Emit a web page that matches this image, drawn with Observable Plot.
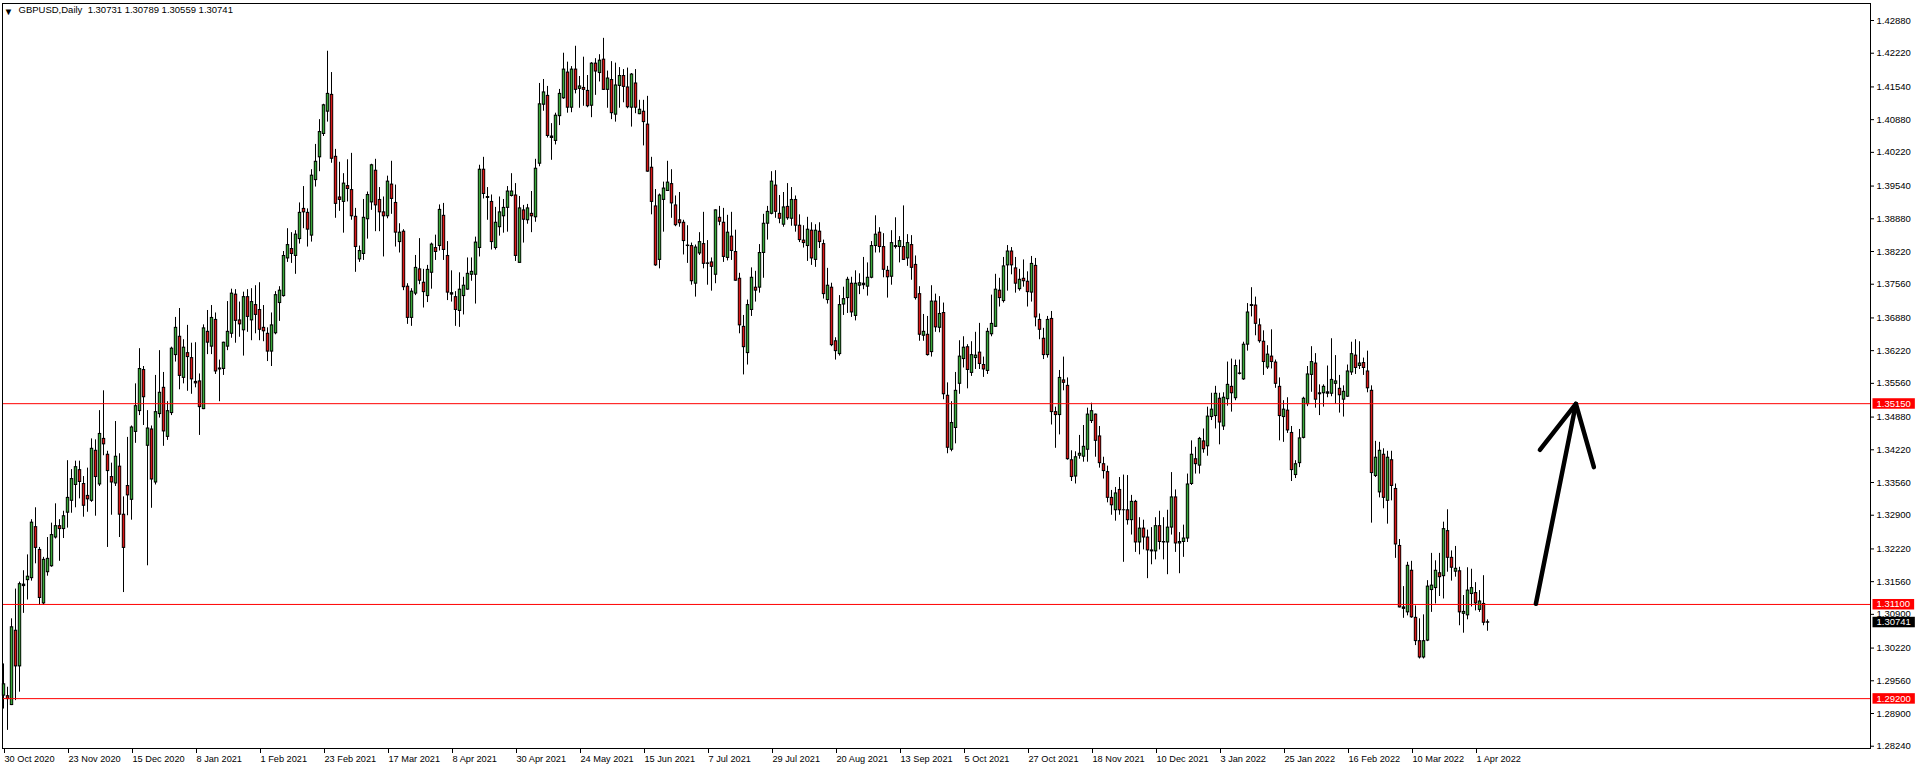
<!DOCTYPE html>
<html>
<head>
<meta charset="utf-8">
<script src="https://cdn.jsdelivr.net/npm/d3@7"></script>
<script src="https://cdn.jsdelivr.net/npm/@observablehq/plot@0.6"></script>
<style>
html,body{margin:0;padding:0;background:#fff;}
#chart svg{display:block;}
</style>
</head>
<body>
<div id="chart"></div>
<script>
// ---------- data ----------
const symbolName = "GBPUSD,Daily";

// x-axis labels: bar index -> date text
const dateBars = [0,16,32,48,64,80,96,112,128,144,160,176,192,208,224,240,256,272,288,304,320,336,352,368];
const dateLabels = ["30 Oct 2020","23 Nov 2020","15 Dec 2020","8 Jan 2021","1 Feb 2021","23 Feb 2021","17 Mar 2021","8 Apr 2021","30 Apr 2021","24 May 2021","15 Jun 2021","7 Jul 2021","29 Jul 2021","20 Aug 2021","13 Sep 2021","5 Oct 2021","27 Oct 2021","18 Nov 2021","10 Dec 2021","3 Jan 2022","25 Jan 2022","16 Feb 2022","10 Mar 2022","1 Apr 2022"];

// y-axis tick labels
const priceTicks = [1.28240,1.28900,1.29560,1.30220,1.30900,1.31560,1.32220,1.32900,1.33560,1.34220,1.34880,1.35560,1.36220,1.36880,1.37560,1.38220,1.38880,1.39540,1.40220,1.40880,1.41540,1.42220,1.42880];

// horizontal levels
const levels = [1.35150, 1.31100, 1.29200];

// daily OHLC, one entry per bar (bar 0 = 30 Oct 2020)
const openP = [
1.2926,1.2925,1.2907,1.3057,1.2985,1.3147,1.3159,1.3163,1.3266,1.3220,
1.3112,1.3175,1.3187,1.3245,1.3268,1.3262,1.3295,1.3319,1.3351,1.3381,
1.3353,1.3329,1.3319,1.3420,1.3352,1.3444,1.3412,1.3367,1.3354,1.3388,
1.3291,1.3349,1.3321,1.3458,1.3500,1.3583,1.3430,1.3463,1.3356,1.3494,
1.3547,1.3448,1.3496,1.3613,1.3650,1.3567,1.3617,1.3607,1.3559,1.3560,
1.3504,1.3660,1.3630,1.3684,1.3584,1.3585,1.3630,1.3656,1.3735,1.3683,
1.3663,1.3730,1.3683,1.3714,1.3704,1.3668,1.3656,1.3620,1.3657,1.3718,
1.3732,1.3808,1.3827,1.3813,1.3847,1.3908,1.3900,1.3854,1.3966,1.4012,
1.4059,1.4104,1.4138,1.4013,1.3931,1.3922,1.3954,1.3946,1.3892,1.3806,
1.3817,1.3887,1.3921,1.3985,1.3926,1.3901,1.3893,1.3957,1.3920,1.3841,
1.3862,1.3751,1.3688,1.3737,1.3786,1.3759,1.3732,1.3779,1.3829,1.3833,
1.3894,1.3813,1.3738,1.3730,1.3702,1.3732,1.3745,1.3775,1.3775,1.3829,
1.3987,1.3932,1.3922,1.3829,1.3871,1.3893,1.3910,1.3934,1.3935,1.3799,
1.3905,1.3885,1.3898,1.3891,1.3999,1.4118,1.4136,1.4054,1.4045,1.4095,
1.4131,1.4183,1.4112,1.4189,1.4150,1.4152,1.4146,1.4116,1.4201,1.4182,
1.4209,1.4148,1.4168,1.4098,1.4156,1.4176,1.4153,1.4112,1.4161,1.4099,
1.4104,1.4078,1.3991,1.3913,1.3805,1.3926,1.3944,1.3958,1.3915,1.3885,
1.3880,1.3834,1.3833,1.3757,1.3818,1.3837,1.3797,1.3800,1.3775,1.3890,
1.3880,1.3809,1.3852,1.3821,1.3767,1.3670,1.3617,1.3704,1.3749,1.3749,
1.3819,1.3878,1.3898,1.3955,1.3898,1.3876,1.3912,1.3888,1.3926,1.3874,
1.3844,1.3833,1.3864,1.3805,1.3862,1.3837,1.3724,1.3749,1.3641,1.3615,
1.3715,1.3728,1.3757,1.3692,1.3753,1.3757,1.3751,1.3769,1.3833,1.3860,
1.3831,1.3783,1.3771,1.3833,1.3831,1.3831,1.3808,1.3835,1.3795,1.3736,
1.3652,1.3654,1.3619,1.3721,1.3668,1.3698,1.3531,1.3422,1.3466,1.3555,
1.3605,1.3629,1.3577,1.3607,1.3618,1.3593,1.3581,1.3655,1.3670,1.3743,
1.3722,1.3794,1.3822,1.3788,1.3746,1.3767,1.3761,1.3739,1.3793,1.3684,
1.3646,1.3613,1.3686,1.3498,1.3492,1.3562,1.3551,1.3401,1.3368,1.3410,
1.3408,1.3422,1.3480,1.3493,1.3449,1.3393,1.3377,1.3325,1.3300,1.3341,
1.3300,1.3300,1.3280,1.3317,1.3235,1.3263,1.3245,1.3219,1.3217,1.3268,
1.3236,1.3235,1.3265,1.3326,1.3233,1.3236,1.3243,1.3353,1.3403,1.3390,
1.3439,1.3429,1.3488,1.3490,1.3525,1.3469,1.3524,1.3549,1.3526,1.3576,
1.3564,1.3634,1.3712,1.3713,1.3673,1.3640,1.3588,1.3610,1.3598,1.3549,
1.3488,1.3501,1.3456,1.3371,1.3395,1.3446,1.3514,1.3573,1.3596,1.3534,
1.3536,1.3538,1.3535,1.3555,1.3545,1.3523,1.3529,1.3578,1.3612,1.3591,
1.3597,1.3580,1.3541,1.3369,1.3336,1.3412,1.3319,1.3401,1.3343,1.3228,
1.3104,1.3094,1.3178,1.3083,1.3036,1.3003,1.3037,1.3139,1.3143,1.3173,
1.3167,1.3258,1.3204,1.3176,1.3177,1.3091,1.3088,1.3131,1.3133,1.3099,
1.3111,1.30731];

const highP = [
1.2990,1.2943,1.3081,1.3141,1.3155,1.3178,1.3210,1.3281,1.3305,1.3225,
1.3205,1.3245,1.3274,1.3313,1.3281,1.3298,1.3400,1.3382,1.3399,1.3399,
1.3368,1.3385,1.3444,1.3442,1.3501,1.3541,1.3419,1.3395,1.3479,1.3414,
1.3327,1.3447,1.3470,1.3555,1.3626,1.3590,1.3501,1.3470,1.3572,1.3622,
1.3578,1.3519,1.3629,1.3689,1.3707,1.3644,1.3673,1.3637,1.3638,1.3575,
1.3674,1.3703,1.3713,1.3698,1.3603,1.3639,1.3721,1.3746,1.3745,1.3720,
1.3740,1.3745,1.3747,1.3753,1.3759,1.3713,1.3668,1.3698,1.3741,1.3751,
1.3822,1.3868,1.3860,1.3864,1.3920,1.3953,1.3908,1.3987,1.4038,1.4088,
1.4119,1.4226,1.4183,1.4028,1.4002,1.3979,1.4007,1.4020,1.3909,1.3833,
1.3927,1.3942,1.3998,1.4008,1.3951,1.3932,1.3974,1.4004,1.3956,1.3878,
1.3866,1.3757,1.3747,1.3814,1.3848,1.3786,1.3794,1.3839,1.3855,1.3916,
1.3919,1.3842,1.3783,1.3741,1.3779,1.3770,1.3809,1.3809,1.3851,1.3996,
1.4012,1.3951,1.3936,1.3911,1.3932,1.3927,1.3953,1.3979,1.3959,1.3933,
1.3915,1.3917,1.3943,1.4008,1.4161,1.4169,1.4155,1.4080,1.4101,1.4149,
1.4222,1.4204,1.4195,1.4236,1.4175,1.4214,1.4177,1.4203,1.4211,1.4219,
1.4252,1.4186,1.4205,1.4202,1.4193,1.4189,1.4192,1.4181,1.4189,1.4127,
1.4127,1.4135,1.4012,1.3947,1.3938,1.3962,1.4004,1.3987,1.3934,1.3941,
1.3885,1.3874,1.3839,1.3835,1.3860,1.3901,1.3844,1.3809,1.3906,1.3913,
1.3909,1.3895,1.3901,1.3865,1.3778,1.3693,1.3724,1.3789,1.3782,1.3836,
1.3897,1.3913,1.3983,1.3985,1.3935,1.3941,1.3959,1.3951,1.3934,1.3896,
1.3874,1.3891,1.3880,1.3876,1.3880,1.3845,1.3788,1.3758,1.3648,1.3733,
1.3750,1.3770,1.3770,1.3783,1.3777,1.3810,1.3799,1.3842,1.3894,1.3870,
1.3858,1.3792,1.3864,1.3890,1.3852,1.3914,1.3856,1.3854,1.3813,1.3751,
1.3695,1.3691,1.3753,1.3736,1.3731,1.3718,1.3557,1.3519,1.3578,1.3642,
1.3650,1.3634,1.3640,1.3659,1.3677,1.3609,1.3667,1.3734,1.3776,1.3768,
1.3810,1.3834,1.3830,1.3810,1.3786,1.3805,1.3781,1.3812,1.3808,1.3696,
1.3667,1.3691,1.3701,1.3508,1.3582,1.3609,1.3567,1.3420,1.3418,1.3451,
1.3471,1.3506,1.3516,1.3494,1.3469,1.3407,1.3389,1.3340,1.3346,1.3366,
1.3371,1.3370,1.3330,1.3320,1.3285,1.3280,1.3260,1.3265,1.3285,1.3298,
1.3285,1.3300,1.3376,1.3341,1.3255,1.3270,1.3373,1.3440,1.3427,1.3447,
1.3464,1.3508,1.3536,1.3550,1.3536,1.3537,1.3599,1.3605,1.3603,1.3603,
1.3639,1.3717,1.3749,1.3730,1.3686,1.3662,1.3632,1.3664,1.3603,1.3567,
1.3521,1.3527,1.3469,1.3400,1.3463,1.3528,1.3590,1.3630,1.3616,1.3553,
1.3553,1.3591,1.3646,1.3612,1.3572,1.3551,1.3593,1.3639,1.3644,1.3640,
1.3607,1.3621,1.3551,1.3439,1.3437,1.3424,1.3419,1.3419,1.3353,1.3241,
1.3146,1.3195,1.3197,1.3107,1.3081,1.3089,1.3158,1.3213,1.3198,1.3213,
1.3276,1.3301,1.3218,1.3227,1.3185,1.3128,1.3184,1.3181,1.3154,1.3138,
1.3168,1.30789];

const lowP = [
1.2899,1.2856,1.2906,1.2916,1.2933,1.3092,1.3119,1.3157,1.3192,1.3108,
1.3108,1.3167,1.3185,1.3242,1.3197,1.3243,1.3264,1.3294,1.3305,1.3323,
1.3286,1.3296,1.3316,1.3288,1.3348,1.3410,1.3225,1.3290,1.3348,1.3245,
1.3134,1.3289,1.3280,1.3435,1.3491,1.3471,1.3188,1.3304,1.3351,1.3486,
1.3429,1.3441,1.3491,1.3599,1.3543,1.3555,1.3540,1.3534,1.3547,1.3451,
1.3503,1.3614,1.3614,1.3574,1.3519,1.3572,1.3622,1.3647,1.3637,1.3649,
1.3611,1.3659,1.3642,1.3656,1.3642,1.3640,1.3600,1.3590,1.3654,1.3681,
1.3730,1.3800,1.3798,1.3776,1.3837,1.3868,1.3831,1.3841,1.3952,1.3983,
1.4054,1.4083,1.4000,1.3889,1.3903,1.3859,1.3922,1.3885,1.3780,1.3800,
1.3804,1.3847,1.3905,1.3862,1.3862,1.3811,1.3888,1.3897,1.3831,1.3819,
1.3743,1.3675,1.3671,1.3733,1.3755,1.3708,1.3719,1.3746,1.3804,1.3823,
1.3804,1.3723,1.3720,1.3671,1.3669,1.3694,1.3744,1.3762,1.3716,1.3811,
1.3928,1.3885,1.3825,1.3825,1.3853,1.3859,1.3861,1.3932,1.3802,1.3799,
1.3839,1.3877,1.3860,1.3881,1.3993,1.4105,1.4051,1.4006,1.4037,1.4076,
1.4129,1.4101,1.4102,1.4140,1.4111,1.4115,1.4112,1.4092,1.4137,1.4164,
1.4147,1.4111,1.4088,1.4083,1.4111,1.4122,1.4110,1.4073,1.4100,1.4098,
1.4035,1.3982,1.3896,1.3792,1.3787,1.3861,1.3943,1.3889,1.3872,1.3871,
1.3815,1.3798,1.3754,1.3730,1.3814,1.3787,1.3754,1.3742,1.3757,1.3874,
1.3800,1.3803,1.3804,1.3762,1.3656,1.3573,1.3593,1.3691,1.3720,1.3738,
1.3768,1.3845,1.3896,1.3889,1.3878,1.3871,1.3885,1.3873,1.3861,1.3840,
1.3829,1.3802,1.3794,1.3790,1.3828,1.3726,1.3716,1.3630,1.3603,1.3611,
1.3693,1.3697,1.3689,1.3682,1.3735,1.3745,1.3732,1.3767,1.3819,1.3819,
1.3769,1.3728,1.3754,1.3827,1.3799,1.3804,1.3792,1.3764,1.3724,1.3641,
1.3641,1.3611,1.3609,1.3659,1.3658,1.3523,1.3414,1.3418,1.3434,1.3534,
1.3587,1.3545,1.3570,1.3584,1.3584,1.3568,1.3574,1.3650,1.3669,1.3710,
1.3718,1.3742,1.3775,1.3738,1.3742,1.3750,1.3710,1.3720,1.3670,1.3644,
1.3604,1.3607,1.3472,1.3425,1.3452,1.3541,1.3401,1.3358,1.3353,1.3403,
1.3397,1.3397,1.3475,1.3407,1.3385,1.3363,1.3315,1.3290,1.3278,1.3290,
1.3195,1.3270,1.3250,1.3215,1.3210,1.3220,1.3162,1.3190,1.3200,1.3220,
1.3200,1.3170,1.3250,1.3215,1.3172,1.3205,1.3235,1.3350,1.3373,1.3373,
1.3415,1.3409,1.3481,1.3464,1.3432,1.3461,1.3510,1.3498,1.3521,1.3573,
1.3562,1.3621,1.3690,1.3652,1.3637,1.3572,1.3584,1.3585,1.3546,1.3440,
1.3437,1.3455,1.3358,1.3364,1.3386,1.3444,1.3509,1.3538,1.3506,1.3491,
1.3508,1.3527,1.3529,1.3514,1.3496,1.3488,1.3528,1.3572,1.3574,1.3584,
1.3572,1.3537,1.3274,1.3366,1.3325,1.3303,1.3272,1.3319,1.3203,1.3103,
1.3082,1.3087,1.3082,1.3027,1.3000,1.3000,1.3035,1.3094,1.3111,1.3126,
1.3121,1.3175,1.3157,1.3165,1.3067,1.3052,1.3079,1.3105,1.3097,1.3094,
1.3067,1.30559];

const closeP = [
1.2949,1.2919,1.3064,1.2985,1.3151,1.3150,1.3166,1.3275,1.3224,1.3123,
1.3200,1.3202,1.3250,1.3268,1.3262,1.3288,1.3325,1.3363,1.3387,1.3357,
1.3309,1.3322,1.3424,1.3367,1.3454,1.3433,1.3379,1.3356,1.3408,1.3291,
1.3224,1.3330,1.3467,1.3510,1.3585,1.3528,1.3465,1.3362,1.3498,1.3537,
1.3459,1.3500,1.3626,1.3668,1.3571,1.3628,1.3609,1.3564,1.3556,1.3508,
1.3667,1.3638,1.3688,1.3580,1.3586,1.3638,1.3660,1.3737,1.3682,1.3675,
1.3730,1.3690,1.3720,1.3694,1.3664,1.3661,1.3620,1.3673,1.3734,1.3743,
1.3813,1.3835,1.3817,1.3856,1.3900,1.3901,1.3866,1.3975,1.4003,1.4063,
1.4117,1.4140,1.4009,1.3918,1.3926,1.3959,1.3948,1.3893,1.3831,1.3823,
1.3890,1.3936,1.3996,1.3915,1.3901,1.3893,1.3963,1.3928,1.3860,1.3860,
1.3750,1.3688,1.3741,1.3789,1.3763,1.3740,1.3785,1.3836,1.3821,1.3906,
1.3825,1.3739,1.3735,1.3704,1.3745,1.3753,1.3777,1.3781,1.3840,1.3987,
1.3938,1.3930,1.3841,1.3880,1.3901,1.3910,1.3943,1.3943,1.3813,1.3909,
1.3886,1.3909,1.3893,1.3989,1.4119,1.4143,1.4055,1.4051,1.4096,1.4140,
1.4189,1.4112,1.4189,1.4148,1.4155,1.4148,1.4115,1.4201,1.4185,1.4207,
1.4148,1.4171,1.4101,1.4157,1.4176,1.4154,1.4113,1.4179,1.4112,1.4108,
1.4083,1.3983,1.3922,1.3794,1.3935,1.3949,1.3961,1.3919,1.3875,1.3879,
1.3843,1.3833,1.3762,1.3830,1.3841,1.3797,1.3798,1.3791,1.3905,1.3882,
1.3811,1.3860,1.3823,1.3763,1.3673,1.3629,1.3714,1.3769,1.3743,1.3819,
1.3878,1.3902,1.3963,1.3902,1.3888,1.3911,1.3889,1.3926,1.3874,1.3845,
1.3839,1.3866,1.3808,1.3864,1.3841,1.3736,1.3753,1.3633,1.3621,1.3714,
1.3726,1.3765,1.3699,1.3757,1.3758,1.3754,1.3769,1.3833,1.3856,1.3831,
1.3785,1.3770,1.3839,1.3831,1.3843,1.3805,1.3839,1.3789,1.3728,1.3654,
1.3660,1.3613,1.3721,1.3669,1.3696,1.3534,1.3426,1.3476,1.3541,1.3610,
1.3628,1.3583,1.3613,1.3612,1.3595,1.3584,1.3660,1.3676,1.3745,1.3728,
1.3792,1.3822,1.3794,1.3757,1.3765,1.3762,1.3740,1.3797,1.3689,1.3664,
1.3613,1.3684,1.3498,1.3492,1.3567,1.3557,1.3403,1.3367,1.3407,1.3414,
1.3428,1.3493,1.3500,1.3440,1.3395,1.3379,1.3325,1.3310,1.3334,1.3300,
1.3300,1.3280,1.3317,1.3235,1.3263,1.3245,1.3219,1.3217,1.3268,1.3236,
1.3235,1.3265,1.3326,1.3233,1.3236,1.3243,1.3352,1.3412,1.3393,1.3444,
1.3423,1.3489,1.3503,1.3535,1.3477,1.3527,1.3553,1.3536,1.3591,1.3575,
1.3634,1.3699,1.3714,1.3676,1.3641,1.3599,1.3614,1.3599,1.3555,1.3490,
1.3503,1.3461,1.3381,1.3393,1.3445,1.3525,1.3574,1.3599,1.3523,1.3536,
1.3549,1.3535,1.3563,1.3560,1.3532,1.3539,1.3580,1.3615,1.3587,1.3596,
1.3587,1.3546,1.3375,1.3406,1.3420,1.3325,1.3406,1.3349,1.3231,1.3104,
1.3101,1.3188,1.3084,1.3036,1.3003,1.3036,1.3146,1.3148,1.3178,1.3165,
1.3262,1.3204,1.3184,1.3182,1.3094,1.3095,1.3138,1.3143,1.3112,1.3116,
1.3073,1.30741];

// hand-drawn arrow (bar index, price)
const arrowShaft = [{bar: 383.1, price: 1.31113}, {bar: 393.1, price: 1.35147}];
const arrowHead  = [{bar: 384.1, price: 1.34220}, {bar: 393.1, price: 1.35147}, {bar: 397.6, price: 1.33869}];

// ---------- build ----------
const upColor = "#3aa83a", downColor = "#d81818";
const candles = openP.map((o, i) => ({i, open: o, high: highP[i], low: lowP[i], close: closeP[i]}));
const bodyTop = d => Math.max(d.open, d.close);
const bodyBot = d => Math.min(d.open, d.close);
const last = candles[candles.length - 1];
const titleText = `${symbolName}\u00a0\u00a0${last.open.toFixed(5)} ${last.high.toFixed(5)} ${last.low.toFixed(5)} ${last.close.toFixed(5)}`;
const minBody = 0.00030;

const chart = Plot.plot({
  width: 1916,
  height: 769,
  marginLeft: 2,
  marginRight: 46,
  marginTop: 3,
  marginBottom: 21,
  style: {fontFamily: "'Liberation Sans', Arial, sans-serif", fontSize: "9.5px", background: "#ffffff", color: "#000", overflow: "visible"},
  x: {domain: [-0.25, 466.75]},
  y: {domain: [1.28194, 1.43223]},
  marks: [
    // wicks
    Plot.ruleX(candles, {x: "i", y1: "low", y2: "high", stroke: "#000", strokeWidth: 1}),
    // bodies (outline)
    Plot.ruleX(candles, {x: "i", y1: bodyTop, y2: bodyBot, stroke: "#000", strokeWidth: 3.4, insetTop: -0.5, insetBottom: -0.5}),
    // bodies (fill)
    Plot.ruleX(candles.filter(d => d.close > d.open && d.close - d.open > minBody), {x: "i", y1: bodyTop, y2: bodyBot, stroke: upColor, strokeWidth: 1.6, insetTop: 0.6, insetBottom: 0.6}),
    Plot.ruleX(candles.filter(d => d.close < d.open && d.open - d.close > minBody), {x: "i", y1: bodyTop, y2: bodyBot, stroke: downColor, strokeWidth: 1.6, insetTop: 0.6, insetBottom: 0.6}),
    // horizontal levels
    Plot.ruleY(levels, {stroke: "#ff0000", strokeWidth: 1}),
    // arrow
    Plot.line(arrowShaft, {x: "bar", y: "price", stroke: "#000", strokeWidth: 4.5, strokeLinecap: "round"}),
    Plot.line(arrowHead, {x: "bar", y: "price", stroke: "#000", strokeWidth: 4.5, strokeLinecap: "round", strokeLinejoin: "round"}),
    // axes
    Plot.axisY(priceTicks, {anchor: "right", tickSize: 3, tickPadding: 3, tickFormat: d => d.toFixed(5), fontSize: 9.5}),
    Plot.axisX(dateBars, {anchor: "bottom", tickSize: 5, tickPadding: 2, textAnchor: "start", dx: 1, fontSize: 9.2, tickFormat: d => dateLabels[dateBars.indexOf(d)]}),
    Plot.frame({stroke: "#000"}),
    // price labels on the right
    Plot.text(levels, {y: d => d, text: d => d.toFixed(5), frameAnchor: "right", dx: 6, textAnchor: "start", fill: "white", fontSize: 9.5}),
    Plot.text([last], {y: "close", text: d => d.close.toFixed(5), frameAnchor: "right", dx: 6, textAnchor: "start", fill: "white", fontSize: 9.5}),
    // title
    Plot.text(["\u25BC"], {frameAnchor: "top-left", dx: 6, dy: 8, fontSize: 9.5, textAnchor: "middle", lineAnchor: "middle"}),
    Plot.text([titleText], {frameAnchor: "top-left", dx: 16, dy: 3, fontSize: 9.5, textAnchor: "start", lineAnchor: "top"})
  ]
});

document.getElementById("chart").append(chart);

// label boxes behind the white price labels
const boxColors = new Map(levels.map(v => [v.toFixed(5), "#ff0000"]));
boxColors.set(last.close.toFixed(5), "#000000");
d3.select(chart).selectAll("text").each(function() {
  const g = this.closest("g[fill]");
  if (!g || g.getAttribute("fill") !== "white") return;
  const col = boxColors.get(this.textContent);
  if (!col) return;
  const b = this.getBBox();
  const r = document.createElementNS("http://www.w3.org/2000/svg", "rect");
  r.setAttribute("x", b.x - 4);
  r.setAttribute("y", b.y + 0.5);
  r.setAttribute("width", b.width + 8);
  r.setAttribute("height", b.height - 0.5);
  r.setAttribute("fill", col);
  const t = this.getAttribute("transform");
  if (t) r.setAttribute("transform", t);
  this.parentNode.insertBefore(r, this);
});
</script>
</body>
</html>
